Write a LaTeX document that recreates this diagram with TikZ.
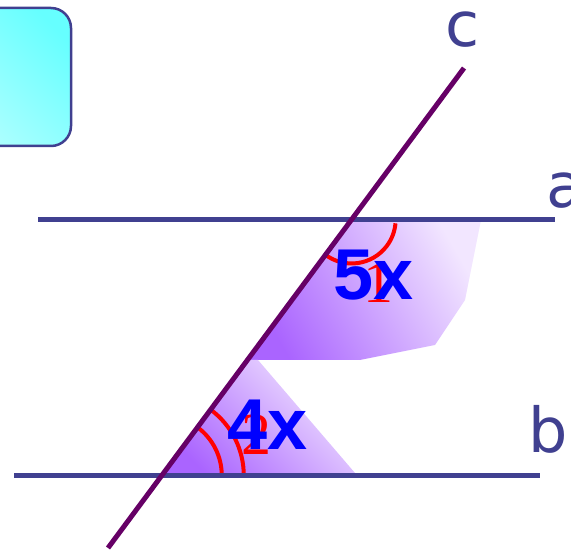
\documentclass[tikz,border=0pt]{standalone}
\usepackage{fontspec}
\setmainfont{Liberation Serif}
\setsansfont{DejaVu Sans}
\newfontfamily\boldsans{Liberation Sans}
\definecolor{LineBlue}{RGB}{64,64,144}
\definecolor{LinePurple}{RGB}{102,0,102}
\definecolor{BoxCyanA}{RGB}{102,255,255}
\definecolor{BoxCyanB}{RGB}{170,255,255}
\definecolor{AngDark}{RGB}{170,100,255}
\definecolor{AngLight}{RGB}{242,230,255}
\tikzset{
  parline/.style={LineBlue,line width=5pt},
  angarc/.style={red,line width=4pt},
  linelabel/.style={LineBlue,font=\sffamily\fontsize{62}{62}\selectfont,anchor=base,inner sep=0pt},
  anglabel/.style={red,font=\fontsize{60}{60}\selectfont,anchor=base,inner sep=0pt},
  valuelabel/.style={blue,font=\boldsans\bfseries\fontsize{72}{72}\selectfont,anchor=base,inner sep=0pt}
}

\begin{document}
\begin{tikzpicture}[x=1pt,y=1pt]
\useasboundingbox (0,0) rectangle (571,552);
\shade[top color=BoxCyanA,bottom color=BoxCyanB,shading angle=-45,draw=LineBlue,line width=2.5pt,rounded corners=20pt]
 (-30,406) rectangle (71,544);
\coordinate (a1) at (38,332.5);
\coordinate (a2) at (555,332.5);
\coordinate (b1) at (14,76.5);
\coordinate (b2) at (540,76.5);
\coordinate (c1) at (108,4);
\coordinate (c2) at (464,484);
\coordinate (ac) at (intersection of a1--a2 and c1--c2);
\coordinate (bc) at (intersection of b1--b2 and c1--c2);
\shade[top color=AngLight,bottom color=AngDark,shading angle=-60]
 (ac) -- (481,332) -- (465,252) -- (435,207) -- (360,192) -- (247,192) -- cycle;
\shade[top color=AngLight,bottom color=AngDark,shading angle=-45]
 (247,192) -- (258,192) -- (355,79) -- (bc) -- cycle;
\draw[angarc] (ac) ++(233:44) arc (233:355:44);
\draw[angarc] (bc) ++(0:60) arc (0:53:60);
\draw[angarc] (bc) ++(0:82) arc (0:53:82);
\node[anglabel] (n1) at (378,249) {1};
\node[anglabel] (n2) at (256,97) {2};
\node[valuelabel] (v5) at (374,252) {5x};
\node[valuelabel] (v4) at (268,102) {4x};
\draw[parline] (a1) -- (a2);
\draw[parline] (b1) -- (b2);
\draw[LinePurple,line width=5pt] (c1) -- (c2);
\node[linelabel] (la) at (565,344) {a};
\node[linelabel] (lb) at (548,99) {b};
\node[linelabel] (lc) at (463,505) {c};
\end{tikzpicture}
\end{document}
